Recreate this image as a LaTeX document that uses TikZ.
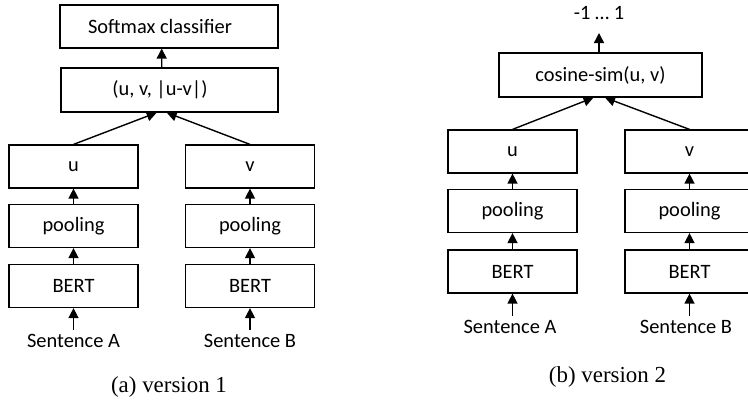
\documentclass[tikz,border=0pt]{standalone}
\usepackage{fontspec}
\setmainfont{Carlito}
\newfontfamily\capfont{Liberation Serif}
\usetikzlibrary{arrows.meta,calc}

\tikzset{
  blk/.style={draw, line width=1.2bp, inner sep=0pt, minimum width=129bp,
    minimum height=43bp, font=\fontsize{20.5}{24}\selectfont},
  arr/.style={line width=1.4bp, -{Triangle[length=10bp,width=10bp]}},
  sent/.style={inner sep=0pt, outer ysep=4bp, anchor=base,
    font=\fontsize{20.5}{24}\selectfont},
  capt/.style={inner sep=0pt, anchor=base, font=\capfont\fontsize{23}{26}\selectfont},
}

\begin{document}
\begin{tikzpicture}[x=1bp, y=-1bp]
  \clip (0,0) rectangle (748,400);

  % ---- version 1: classification head ----
  \node[blk, minimum width=218bp] (smx) at (169,26.5)
    {\makebox[218bp]{\hspace{-18bp}Softmax classifier}};
  \node[blk, minimum width=217bp, minimum height=44bp] (cat) at (169.5,90)
    {\makebox[217bp]{\hspace{-19bp}(u, v, |u-v|)}};

  \node[blk] (uL)    at (73.5,166.5) {u};
  \node[blk] (poolA) at (73.5,226)   {pooling};
  \node[blk] (bertA) at (73.5,286)   {BERT};
  \node[sent] (sA)   at (73.5,347.3) {Sentence A};

  \node[blk] (vL)    at (250,166.5)  {v};
  \node[blk] (poolB) at (250,226)    {pooling};
  \node[blk] (bertB) at (250,286)    {BERT};
  \node[sent] (sB)   at (250,347.3)  {Sentence B};

  \draw[arr] ($(cat.north)+(-7.8,0)$) -- ($(smx.south)+(-7.3,0)$);
  \draw[arr] (uL.north) -- ($(cat.south)+(-12.8,0)$);
  \draw[arr] (vL.north) -- ($(cat.south)+(-2.8,0)$);
  \foreach \s/\b/\p/\t in {sA/bertA/poolA/uL, sB/bertB/poolB/vL}{
    \draw[arr] (\s.north) -- (\b.south);
    \draw[arr] (\b.north) -- (\p.south);
    \draw[arr] (\p.north) -- (\t.south);
  }
  \node[capt] (capa) at (169,392.5) {(a) version 1};

  % ---- version 2: cosine similarity ----
  \node[blk, minimum width=203bp, minimum height=44bp] (cos) at (600.5,75)
    {cosine-sim(u, v)};
  \node[inner sep=0pt, outer ysep=14bp, anchor=base, text depth=0pt,
    font=\fontsize{20.5}{24}\selectfont] (out) at (599,19) {-1 … 1};

  \node[blk] (uR)    at (512.5,151.5) {u};
  \node[blk] (poolC) at (512.5,211)   {pooling};
  \node[blk] (bertC) at (512.5,271.5) {BERT};
  \node[sent] (sC)   at (510,333.3)   {Sentence A};

  \node[blk] (vR)    at (689.5,151.5) {v};
  \node[blk] (poolD) at (689.5,211)   {pooling};
  \node[blk] (bertD) at (689.5,271.5) {BERT};
  \node[sent] (sD)   at (686,333.3)   {Sentence B};

  \draw[arr] (out.south |- cos.north) -- (out.south);
  \draw[arr] (uR.north) -- ($(cos.south)+(-7,0)$);
  \draw[arr] (vR.north) -- ($(cos.south)+(4.5,0)$);
  \foreach \s/\b/\p/\t in {sC/bertC/poolC/uR, sD/bertD/poolD/vR}{
    \draw[arr] (\s.north -| \b.south) -- (\b.south);
    \draw[arr] (\b.north) -- (\p.south);
    \draw[arr] (\p.north) -- (\t.south);
  }
  \node[capt] (capb) at (607.5,382.5) {(b) version 2};
\end{tikzpicture}
\end{document}
